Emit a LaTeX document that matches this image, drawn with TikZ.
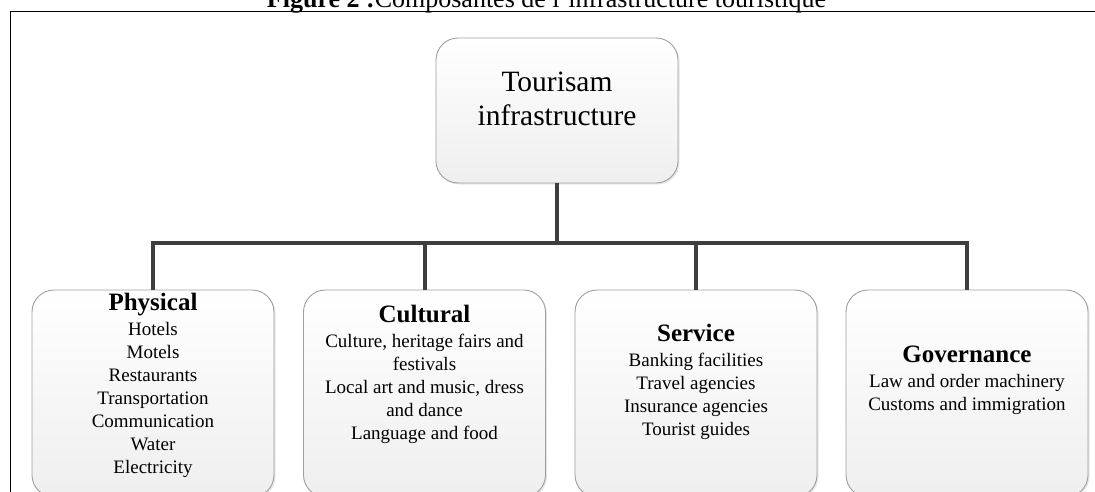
\documentclass[tikz,border=0pt]{standalone}
\usepackage{fontspec}
\setmainfont{Liberation Serif}
\usetikzlibrary{shadows}

\definecolor{connector}{RGB}{62,62,62}
\newcommand\boxhead[1]{{\fontsize{25pt}{26pt}\selectfont\bfseries #1}\\[2pt]}

\begin{document}
\begin{tikzpicture}[
    x=1pt, y=-1pt,
    box/.style={rectangle, draw=gray!75, line width=0.9pt, rounded corners=22pt, top color=white, bottom color=gray!13,
        minimum width=242pt, inner sep=0pt, drop shadow={shadow xshift=1.5pt, shadow yshift=-1.5pt, opacity=0.2}},
    branch/.style={box, minimum height=207pt},
    items/.style={anchor=north, align=center, inner sep=0pt, font=\fontsize{19pt}{23pt}\selectfont},
    conn/.style={line width=4pt, draw=connector},
]
\useasboundingbox (0,0) rectangle (1095,492);

% Caption and frame
\node[anchor=base, inner sep=0pt, font=\fontsize{26pt}{30pt}\selectfont] (title) at (546.5,7.5)
    {\textbf{Figure 2 :}Composantes de l'infrastructure touristique};
\draw[line width=1.4pt] (10.5,500) |- (1100,11.5);

% Root
\node[box, minimum height=145pt] (root) at (557,110.5) {};
\node[anchor=north, align=center, inner sep=0pt, font=\fontsize{29.5pt}{34pt}\selectfont] (rootlabel) at (557,72)
    {Tourisam\\infrastructure};

% Branches
\node[branch] (physical) at (153,393.5) {};
\node[branch] (cultural) at (424.5,393.5) {};
\node[branch] (service) at (696,393.5) {};
\node[branch] (governance) at (967,393.5) {};

\node[items] (physicaltext) at (153,293)
    {\boxhead{Physical}Hotels\\Motels\\Restaurants\\Transportation\\Communication\\Water\\Electricity};
\node[items] (culturaltext) at (424.5,305)
    {\boxhead{Cultural}Culture, heritage fairs and\\festivals\\Local art and music, dress\\and dance\\Language and food};
\node[items] (servicetext) at (696,324)
    {\boxhead{Service}Banking facilities\\Travel agencies\\Insurance agencies\\Tourist guides};
\node[items] (governancetext) at (967,346)
    {\boxhead{Governance}Law and order machinery\\Customs and immigration};

% Connectors
\coordinate (hub) at (557,243);
\draw[conn] (root.south) -- (hub);
\draw[conn] (hub) -| (physical.north);
\draw[conn] (hub) -| (cultural.north);
\draw[conn] (hub) -| (service.north);
\draw[conn] (hub) -| (governance.north);

\end{tikzpicture}
\end{document}
